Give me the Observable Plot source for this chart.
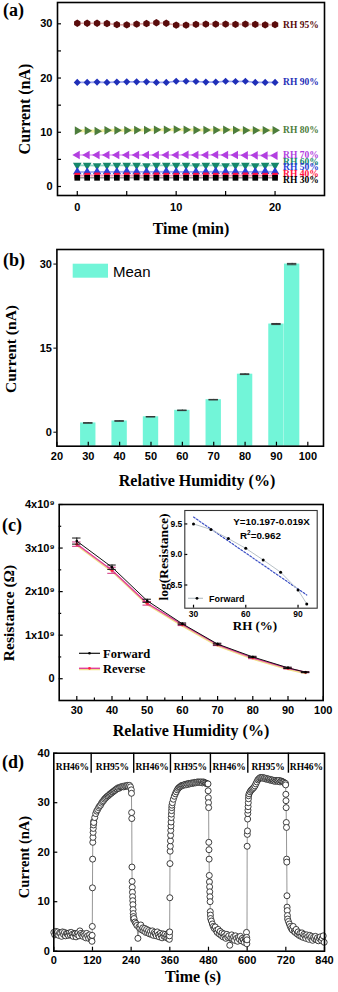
<!DOCTYPE html>
<html><head><meta charset="utf-8">
<script src="https://cdn.jsdelivr.net/npm/d3@7"></script>
<script src="https://cdn.jsdelivr.net/npm/@observablehq/plot@0.6"></script>
<style>
body{margin:0;background:#fff;}
#wrap{position:relative;width:338px;height:992px;overflow:hidden;background:#fff;}
</style></head><body><div id="wrap"></div>
<script>
// ================= DATA =================
// (a) current vs time at fixed RH
const aTime = [0,1,2,3,4,5,6,7,8,9,10,11,12,13,14,15,16,17,18,19,20];
const aRH = [95,90,80,70,60,50,40,30];
const aRH95 = [30.1,30.1,30.1,30.05,29.85,29.8,29.95,30.05,30.2,30.1,29.75,29.75,29.9,29.95,29.95,29.95,29.9,29.95,29.9,29.8,29.85];
const aRH90 = [19.2,19.2,19.25,19.2,19.25,19.3,19.3,19.3,19.2,19.2,19.4,19.4,19.35,19.25,19.25,19.4,19.35,19.4,19.2,19.2,19.2];
const aRH80 = [10.3,10.3,10.2,10.35,10.35,10.35,10.4,10.4,10.45,10.45,10.5,10.45,10.4,10.4,10.4,10.45,10.4,10.35,10.35,10.35,10.35];
const aRH70 = [5.8,5.8,5.8,5.8,5.8,5.8,5.8,5.8,5.8,5.8,5.8,5.85,5.8,5.8,5.85,5.8,5.8,5.75,5.75,5.7,5.7];
const aRH60 = [3.9,3.9,3.85,3.9,3.9,3.9,3.9,3.85,3.9,3.9,3.9,3.9,3.85,3.9,3.9,3.85,3.9,3.9,3.85,3.9,3.9];
const aRH50 = [2.7,2.65,2.7,2.7,2.7,2.75,2.7,2.7,2.7,2.75,2.7,2.7,2.7,2.7,2.75,2.7,2.7,2.7,2.7,2.75,2.7];
const aRH40 = [2.0,2.0,2.05,2.0,2.0,2.05,2.0,2.0,2.05,2.0,2.0,2.0,2.0,2.05,2.0,2.0,2.0,2.05,2.0,2.0,2.0];
const aRH30 = [1.6,1.6,1.6,1.6,1.6,1.6,1.65,1.6,1.6,1.6,1.6,1.6,1.6,1.6,1.6,1.6,1.6,1.6,1.6,1.6,1.6];
const aXTicks = [0,5,10,15,20];
const aYTicks = [0,5,10,15,20,25,30];

// (b) mean current vs RH
const bRH = [30,40,50,60,70,80,90,95];
const bMean = [1.65,2.0,2.75,3.9,5.8,10.35,19.3,30.0];
const bErr = [0.05,0.05,0.04,0.05,0.05,0.07,0.1,0.12];
const bXTicks = [20,30,40,50,60,70,80,90,100];
const bYTicks = [0,15,30];

// (c) resistance vs RH
const cRH = [30,40,50,60,70,80,90,95];
const cForward = [3.16e9,2.56e9,1.79e9,1.26e9,0.795e9,0.50e9,0.25e9,0.15e9];
const cForwardErr = [0.07e9,0.05e9,0.035e9,0.02e9,0.02e9,0.015e9,0.015e9,0.01e9];
const cReverse = [3.09e9,2.49e9,1.73e9,1.24e9,0.78e9,0.48e9,0.24e9,0.15e9];
const cReverseErr = [0.05e9,0.07e9,0.04e9,0.02e9,0.02e9,0.02e9,0.015e9,0.01e9];
const cXTicks = [30,40,50,60,70,80,90,100];
const cXMinor = [35,45,55,65,75,85,95];
const cYTicks = [0,1e9,2e9,3e9,4e9];
const cYMinor = [0.5e9,1.5e9,2.5e9,3.5e9];
// inset
const insetRH = [30,40,50,60,70,80,90,95];
const insetLogR = [9.50,9.41,9.26,9.10,8.91,8.71,8.42,8.19];
const insetXTicks = [30,60,90];
const insetYTicks = [8.5,9.0,9.5];

// (d) response/recovery cycles (sampled every 3 s within a plateau, plus transition points)
const dStep = 3;
const dSegStart = [0,124,249,368,489,606,728];
const dSeg1 = [3.8,3.3,4.0,3.5,3.9,3.2,3.7,3.6,3.0,3.9,3.4,3.8,3.1,3.6,3.5,3.2,3.7,3.3,3.8,3.4,3.0,3.6,3.5,2.9,3.4,3.7,3.1,4.1,3.6,3.3,3.0,3.5,3.2,2.7,3.6,3.1,2.6,3.3,2.8,2.3];
const dSeg2 = [26.0,27.0,27.8,28.3,28.6,29.0,29.3,29.5,29.9,30.2,30.4,30.7,30.9,31.1,31.3,31.4,31.6,31.8,31.9,32.1,32.2,32.4,32.5,32.7,32.8,33.0,32.9,33.1,33.2,33.2,33.3,33.2,33.4,33.3,33.4,33.5,33.3,33.5,33.2];
const dSeg3 = [6.6,5.9,5.6,5.2,2.6,4.9,4.6,5.3,4.3,4.7,4.1,4.6,3.8,4.4,3.7,4.2,3.5,4.0,3.4,4.1,3.2,3.8,3.5,3.1,3.9,3.3,2.9,3.6,3.2,2.7,3.5,3.0,3.4,2.8,3.2,2.6,3.3];
const dSeg4 = [30.0,30.7,31.3,31.8,32.2,32.6,32.9,33.1,33.2,33.4,33.5,33.5,33.6,33.7,33.6,33.8,33.7,33.9,33.8,33.9,34.0,33.9,34.0,34.1,34.0,34.1,34.2,34.1,34.2,34.1,34.2,34.0,34.2,34.1,34.0,33.9,33.8];
const dSeg5 = [6.1,5.5,5.0,4.6,4.9,4.2,3.8,4.4,3.5,4.0,3.2,3.7,2.9,3.5,3.0,2.6,3.4,2.8,3.1,1.2,2.7,3.3,2.5,2.9,2.2,3.1,2.6,2.0,2.8,2.4,3.0,2.1,2.6,2.3,1.8,2.5,2.2];
const dSeg6 = [31.8,32.2,32.5,32.7,32.9,33.1,33.4,33.8,34.2,34.6,34.8,35.0,35.1,35.0,35.1,34.9,35.0,34.8,34.9,34.7,34.8,34.6,34.7,34.5,34.6,34.4,34.5,34.3,34.5,34.4,34.3,34.5,34.2,34.4,34.3,34.2,34.1,33.9];
const dSeg7 = [6.0,5.5,5.0,4.6,4.3,5.0,4.0,3.8,4.4,3.5,3.9,3.2,3.6,3.0,3.7,2.8,3.4,3.1,2.6,3.3,2.9,2.4,3.2,2.7,3.0,2.2,2.8,2.5,3.0,2.3,2.7,2.1,2.6,2.9,2.2,2.6,3.1,1.8];
const dJumpT = [118.5,119,119.5,120,120.5,121,121.5,122,122.5,123,123.5,
  240.5,241,241.5,242,242.5,243,243.5,244,244.5,245,245.5,246,246.5,247,247.5,
  358,358.5,359,359.5,360,360.5,361,361.5,362,362.5,363,363.5,364,364.5,365,365.5,366,366.5,
  478.5,479,479.5,480,480.5,481,481.5,482,482.5,483,483.5,484,484.5,485,485.5,486,486.5,
  598,598.5,599,599.5,600,600.5,601,601.5,602,602.5,603,603.5,604,604.5,
  719,719.5,720,720.5,721,721.5,722,722.5,723,723.5,724,724.5,725,725.5];
const dJumpV = [2.0,3.2,5.0,12.8,18.6,22.0,23.0,24.0,24.8,25.5,26.2,
  32.6,31.9,28.0,26.8,17.0,14.1,12.9,11.9,11.0,10.2,9.4,8.4,7.6,7.0,6.4,
  3.8,2.4,3.1,3.9,10.8,17.7,20.2,21.2,22.3,23.4,24.4,25.3,26.1,27.0,27.7,28.4,29.0,29.5,
  33.8,32.4,31.0,30.0,29.0,22.0,20.5,18.6,15.3,14.0,13.0,12.0,11.0,10.0,8.0,7.3,6.6,
  3.8,2.8,1.5,2.3,21.2,23.6,24.3,26.7,27.8,28.5,29.2,30.0,30.8,31.4,
  33.9,33.6,31.7,30.4,29.0,26.0,25.0,18.6,18.0,11.2,8.9,8.2,7.2,6.5];
const dDividers = [116,248,362,486,602,728];
const dSegLabels = ["RH46%","RH95%","RH46%","RH95%","RH46%","RH95%","RH46%"];
const dXTicks = [0,120,240,360,480,600,720,840];
const dYTicks = [0,10,20,30,40];

// ================= STYLE =================
const serif = "'Liberation Serif','Times New Roman',serif";
const sans = "'Liberation Sans',Arial,sans-serif";
const W = 338;
const baseStyle = {fontFamily: sans, fontWeight: "bold", fontSize: "11px", background: "transparent", overflow: "visible"};
const aStyle = [
  {color:"#5a0c0c", line:"#d9a7a7", symbol:"hexagon", rotate:0, dy:0},
  {color:"#1f2fb8", line:"#9aa3ee", symbol:"diamond2", rotate:0, dy:0},
  {color:"#4d7d3c", line:"#f2f0a0", symbol:"triangle", rotate:90, dy:0},
  {color:"#b23fe0", line:"#dfa9f2", symbol:"triangle", rotate:-90, dy:-1},
  {color:"#15876a", line:"#8fd8c6", symbol:"triangle", rotate:180, dy:-3},
  {color:"#2a3fd6", line:"#a3adf0", symbol:"triangle", rotate:0, dy:-5},
  {color:"#ff1040", line:"#ff9ab5", symbol:"square", rotate:0, dy:-2},
  {color:"#000000", line:"#999999", symbol:"square", rotate:0, dy:2}
];
const barColor = "#72f5d8";

const wrap = document.getElementById("wrap");
function place(svg, top, left = 0) {
  svg.style.position = "absolute"; svg.style.top = top + "px"; svg.style.left = left + "px";
  wrap.appendChild(svg);
}
function inX(ticks, plotH, len = 4) { return Plot.tickX(ticks, {x: d => d, insetTop: plotH - len, stroke: "#000", strokeWidth: 1.2}); }
function inY(ticks, plotW, len = 4) { return Plot.tickY(ticks, {y: d => d, insetRight: plotW - len, stroke: "#000", strokeWidth: 1.2}); }

// ================= PANEL (a) =================
{
  const g = {h: 215, ml: 57, mr: 14, mt: 2, mb: 20};
  const pw = W - g.ml - g.mr, ph = g.h - g.mt - g.mb;
  const series = [aRH95, aRH90, aRH80, aRH70, aRH60, aRH50, aRH40, aRH30];
  const marks = [];
  series.forEach((vals, i) => {
    const st = aStyle[i];
    const rows = aTime.map((t, j) => ({t, v: vals[j]}));
    marks.push(Plot.line(rows, {x: "t", y: "v", stroke: st.line, strokeWidth: i === 2 ? 3 : 1.6}));
    marks.push(Plot.dot(rows, {x: "t", y: "v", symbol: st.symbol, r: 3.2, fill: st.color, stroke: "none", rotate: st.rotate}));
  });
  series.forEach((vals, i) => {
    marks.push(Plot.text([aRH[i]], {x: () => aTime[aTime.length - 1], y: () => vals[vals.length - 1], text: d => `RH ${d}%`,
      dx: 8, dy: aStyle[i].dy, textAnchor: "start", fill: aStyle[i].color, fontFamily: serif, fontSize: 9.5, fontWeight: "bold"}));
  });
  marks.push(inX(aXTicks, ph), inY(aYTicks, pw),
    Plot.axisX({ticks: aXTicks, tickSize: 0, tickPadding: 8, tickFormat: d => d % 10 === 0 ? d : "", label: null}),
    Plot.axisY({ticks: aYTicks, tickSize: 0, tickPadding: 5, tickFormat: d => d % 10 === 0 ? d : "", label: null}),
    Plot.frame({stroke: "#000", strokeWidth: 1.6}));
  const svg = Plot.plot({width: W, height: g.h, marginLeft: g.ml, marginRight: g.mr, marginTop: g.mt, marginBottom: g.mb,
    x: {domain: [-2, 25]}, y: {domain: [-1.66, 33.93]}, style: baseStyle, marks});
  place(svg, 0);
}

// ================= PANEL (b) =================
{
  const g = {top: 240, h: 225, ml: 56.4, mr: 15, mt: 9, mb: 19.3};
  const pw = W - g.ml - g.mr, ph = g.h - g.mt - g.mb;
  const yDom = [-2.5, 32.6];
  const rows = bRH.map((rh, i) => ({rh, m: bMean[i], e: bErr[i]}));
  const svg = Plot.plot({width: W, height: g.h, marginLeft: g.ml, marginRight: g.mr, marginTop: g.mt, marginBottom: g.mb,
    x: {domain: [20, 105]}, y: {domain: yDom}, style: baseStyle,
    marks: [
      Plot.rect(rows, {x1: d => d.rh - 2.45, x2: d => d.rh + 2.45, y1: () => yDom[0], y2: "m", fill: barColor}),
      Plot.ruleX(rows, {x: "rh", y1: d => d.m - d.e, y2: d => d.m + d.e, stroke: "#333"}),
      Plot.ruleY(rows, {y: d => d.m + d.e, x1: d => d.rh - 1.5, x2: d => d.rh + 1.5, stroke: "#333", strokeWidth: 1}),
      Plot.ruleY(rows, {y: d => d.m - d.e, x1: d => d.rh - 1.5, x2: d => d.rh + 1.5, stroke: "#333", strokeWidth: 1}),
      inX(bXTicks, ph),
      Plot.axisX({ticks: bXTicks, tickSize: 0, tickPadding: 6, label: null}),
      Plot.axisY({ticks: bYTicks, tickSize: 3, tickPadding: 2, label: null}),
      Plot.frame({stroke: "#000", strokeWidth: 1.6})
    ]});
  place(svg, g.top);
}

// ================= PANEL (c) =================
{
  const g = {top: 495, h: 225, ml: 58.7, mr: 15.3, mt: 9, mb: 20};
  const pw = W - g.ml - g.mr, ph = g.h - g.mt - g.mb;
  const fw = cRH.map((rh, i) => ({rh, v: cForward[i], e: cForwardErr[i]}));
  const rv = cRH.map((rh, i) => ({rh, v: cReverse[i], e: cReverseErr[i]}));
  const err = (rows, color) => [
    Plot.ruleX(rows, {x: "rh", y1: d => d.v - d.e, y2: d => d.v + d.e, stroke: color, strokeWidth: 1}),
    Plot.ruleY(rows, {y: d => d.v + d.e, x1: d => d.rh - 1.2, x2: d => d.rh + 1.2, stroke: color, strokeWidth: 1}),
    Plot.ruleY(rows, {y: d => d.v - d.e, x1: d => d.rh - 1.2, x2: d => d.rh + 1.2, stroke: color, strokeWidth: 1})
  ];
  const svg = Plot.plot({width: W, height: g.h, marginLeft: g.ml, marginRight: g.mr, marginTop: g.mt, marginBottom: g.mb,
    x: {domain: [25, 100]}, y: {domain: [-0.5e9, 4e9]}, style: baseStyle,
    marks: [
      Plot.line(rv, {x: "rh", y: "v", stroke: "#f0e08a", strokeWidth: 1.5, dy: 1.3}),
      Plot.line(rv, {x: "rh", y: "v", stroke: "#e0409a", strokeWidth: 1.4}),
      ...err(rv, "#d0307f"),
      Plot.dot(rv, {x: "rh", y: "v", r: 1.5, fill: "#ff2040"}),
      Plot.line(fw, {x: "rh", y: "v", stroke: "#111", strokeWidth: 1}),
      ...err(fw, "#111"),
      Plot.dot(fw, {x: "rh", y: "v", r: 1.3, fill: "#000"}),
      inX(cXTicks, ph), inX(cXMinor, ph, 2.5), inY(cYTicks, pw), inY(cYMinor, pw, 2.5),
      Plot.axisX({ticks: cXTicks, tickSize: 0, tickPadding: 6, label: null}),
      Plot.axisY({ticks: cYTicks, tickSize: 0, tickPadding: 4.5, label: null, tickFormat: d => d === 0 ? "0" : `${d / 1e9}x10⁹`}),
      Plot.frame({stroke: "#000", strokeWidth: 1.6})
    ]});
  place(svg, g.top);
}

// ================= INSET =================
{
  const g = {top: 500, left: 150, w: 175, h: 125, ml: 34.3, mr: 8.3, mt: 10, mb: 17.3};
  const pw = g.w - g.ml - g.mr, ph = g.h - g.mt - g.mb;
  const rows = insetRH.map((rh, i) => ({rh, v: insetLogR[i]}));
  const svg = Plot.plot({width: g.w, height: g.h, marginLeft: g.ml, marginRight: g.mr, marginTop: g.mt, marginBottom: g.mb,
    x: {domain: [25, 101]}, y: {domain: [8.12, 9.72]}, style: {...baseStyle, fontSize: "8.5px"},
    marks: [
      Plot.frame({fill: "#fff"}),
      Plot.linearRegressionY(rows, {x: "rh", y: "v", stroke: "#3b4fc4", strokeWidth: 1.2, strokeDasharray: "1.8,1.8", ci: 0}),
      Plot.line(rows, {x: "rh", y: "v", stroke: "#b9c2c8", strokeWidth: 1}),
      Plot.dot(rows, {x: "rh", y: "v", r: 1.5, fill: "#000"}),
      inX(insetXTicks, ph, 3), inY(insetYTicks, pw, 3),
      Plot.axisX({ticks: insetXTicks, tickSize: 0, tickPadding: 2.5, label: null}),
      Plot.axisY({ticks: insetYTicks, tickSize: 0, tickPadding: 2.5, label: null, tickFormat: d3.format(".1f")}),
      Plot.frame({stroke: "#333", strokeWidth: 1.1})
    ]});
  place(svg, g.top, g.left);
}

// ================= PANEL (d) =================
{
  const g = {top: 745, h: 225, ml: 53.3, mr: 14, mt: 7.7, mb: 19.3};
  const pw = W - g.ml - g.mr, ph = g.h - g.mt - g.mb;
  const segs = [dSeg1, dSeg2, dSeg3, dSeg4, dSeg5, dSeg6, dSeg7];
  let rows = [];
  segs.forEach((vals, s) => vals.forEach((v, i) => rows.push({t: dSegStart[s] + i * dStep, v})));
  dJumpT.forEach((t, i) => rows.push({t, v: dJumpV[i]}));
  rows.sort((a, b) => a.t - b.t);
  const bounds = [0, ...dDividers, 840];
  const labRows = dSegLabels.map((s, i) => ({s, t: (bounds[i] + bounds[i + 1]) / 2}));
  const svg = Plot.plot({width: W, height: g.h, marginLeft: g.ml, marginRight: g.mr, marginTop: g.mt, marginBottom: g.mb,
    x: {domain: [0, 840]}, y: {domain: [0, 40]}, style: baseStyle,
    marks: [
      Plot.line(rows, {x: "t", y: "v", stroke: "#8a8a8a", strokeWidth: 0.9}),
      Plot.dot(rows, {x: "t", y: "v", r: 3, fill: "#fff", stroke: "#2a2a2a", strokeWidth: 0.9}),
      Plot.tickX(dDividers, {x: d => d, insetBottom: ph - 20, stroke: "#000", strokeWidth: 1.4}),
      Plot.text(labRows, {x: "t", frameAnchor: "top", dy: 10.5, text: "s", fontFamily: serif, fontSize: 9.5, fontWeight: "bold", fill: "#000"}),
      inX(dXTicks, ph), inY(dYTicks, pw),
      Plot.axisX({ticks: dXTicks, tickSize: 0, tickPadding: 5, label: null}),
      Plot.axisY({ticks: dYTicks, tickSize: 0, tickPadding: 4, label: null}),
      Plot.frame({stroke: "#000", strokeWidth: 1.6})
    ]});
  place(svg, g.top);
}

// ================= TITLES / LEGENDS =================
const ov = d3.select("#wrap").append("svg").attr("width", W).attr("height", 992)
  .style("position", "absolute").style("left", 0).style("top", 0).style("pointer-events", "none");
function txt(s, x, y, o = {}) {
  const {size = 16, family = serif, weight = "bold", anchor = "middle", rotate = false, fill = "#000"} = o;
  const t = ov.append("text").attr("x", x).attr("y", y).attr("font-family", family).attr("font-size", size)
    .attr("font-weight", weight).attr("text-anchor", anchor).attr("fill", fill).text(s);
  if (rotate) t.attr("transform", `rotate(-90 ${x} ${y})`);
  return t;
}
// panel letters
txt("(a)", 3, 15.5, {size: 18, anchor: "start"});
txt("(b)", 3, 265.5, {size: 18, anchor: "start"});
txt("(c)", 2, 531, {size: 18, anchor: "start"});
txt("(d)", 2, 768, {size: 18, anchor: "start"});
// axis titles
txt("Current (nA)", 30, 109, {size: 16, rotate: true});
txt("Time (min)", 191, 233.5, {size: 16});
txt("Current (nA)", 15.5, 349, {size: 15.5, rotate: true});
txt("Relative Humidity (%)", 197, 486, {size: 16});
txt("Resistance (Ω)", 14, 613, {size: 15.5, rotate: true});
txt("Relative Humidity (%)", 191, 735.5, {size: 16});
txt("Current (nA)", 28.5, 857, {size: 14.5, rotate: true});
txt("Time (s)", 193, 982, {size: 16});
// (b) legend
ov.append("rect").attr("x", 72.7).attr("y", 263.7).attr("width", 35.3).attr("height", 14).attr("fill", barColor);
txt("Mean", 113, 276.5, {size: 15, family: sans, weight: "normal", anchor: "start"});
// (c) legend
ov.append("line").attr("x1", 79).attr("x2", 100).attr("y1", 653.3).attr("y2", 653.3).attr("stroke", "#111").attr("stroke-width", 1.2);
ov.append("circle").attr("cx", 89.5).attr("cy", 653.3).attr("r", 1.3).attr("fill", "#000");
txt("Forward", 103, 658, {size: 12.5, anchor: "start"});
ov.append("line").attr("x1", 79).attr("x2", 100).attr("y1", 669.5).attr("y2", 669.5).attr("stroke", "#f0e08a").attr("stroke-width", 1.5);
ov.append("line").attr("x1", 79).attr("x2", 100).attr("y1", 668.3).attr("y2", 668.3).attr("stroke", "#e0409a").attr("stroke-width", 1.4);
ov.append("circle").attr("cx", 89.5).attr("cy", 668.3).attr("r", 1.4).attr("fill", "#ff2040");
txt("Reverse", 103, 672.5, {size: 12.5, anchor: "start"});
// inset texts
txt("log(Resistance)", 167.5, 557, {size: 13.5, rotate: true});
txt("RH (%)", 255, 630, {size: 13});
txt("Y=10.197-0.019X", 233.3, 524.5, {size: 9.8, family: sans, anchor: "start"});
{
  const t = ov.append("text").attr("x", 240).attr("y", 538.5).attr("font-family", sans).attr("font-size", 9.8).attr("font-weight", "bold");
  t.append("tspan").text("R");
  t.append("tspan").attr("dy", -3.5).attr("font-size", 6.5).text("2");
  t.append("tspan").attr("dy", 3.5).text("=0.962");
}
ov.append("line").attr("x1", 188).attr("x2", 203).attr("y1", 598.3).attr("y2", 598.3).attr("stroke", "#b9c2c8").attr("stroke-width", 1.2);
ov.append("circle").attr("cx", 197).attr("cy", 598.3).attr("r", 1.4).attr("fill", "#000");
txt("Forward", 209, 601.5, {size: 9, family: sans, anchor: "start"});
</script></body></html>
